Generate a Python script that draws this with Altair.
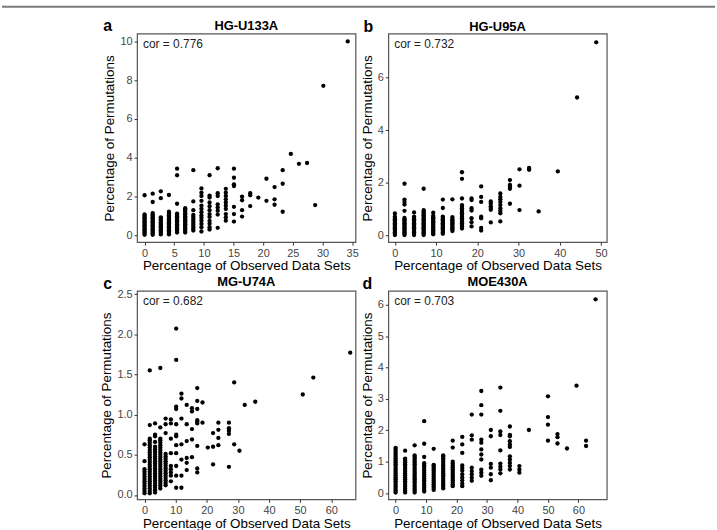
import altair as alt
import pandas as pd

FONT = "Liberation Sans"

# ---------------- Panel a : HG-U133A ----------------
A_x = [0, 1.37, 2.74, 4.11, 5.48, 6.85, 8.22, 9.59, 10.96, 12.33, 13.70, 15.07,
       16.44, 17.81, 19.18, 20.55, 21.92, 23.29, 24.66, 26.03, 27.40, 28.77, 30.14, 34.25]
A_y = [
    [0.03, 0.1, 0.17, 0.24, 0.31, 0.38, 0.45, 0.52, 0.59, 0.66, 0.73, 0.8, 0.87, 0.94, 1.01, 1.08, 2.07],
    [0.03, 0.1, 0.17, 0.24, 0.31, 0.38, 0.45, 0.52, 0.59, 0.66, 0.73, 0.8, 0.87, 0.94, 1.01, 1.08, 1.15, 1.72, 2.15],
    [0.05, 0.12, 0.19, 0.26, 0.33, 0.4, 0.47, 0.54, 0.61, 0.68, 0.75, 0.82, 0.89, 0.93, 1.92, 2.27],
    [0.05, 0.12, 0.19, 0.26, 0.33, 0.4, 0.47, 0.54, 0.61, 0.68, 0.75, 0.82, 0.89, 0.96, 1.03, 1.1, 1.17, 1.22, 2.08],
    [0.15, 0.22, 0.29, 0.36, 0.43, 0.5, 0.57, 0.64, 0.71, 0.78, 0.85, 0.92, 0.99, 1.06, 1.12, 1.63, 3.1, 3.44],
    [0.15, 0.22, 0.29, 0.36, 0.43, 0.5, 0.57, 0.64, 0.71, 0.78, 0.85, 0.92, 0.99, 1.06, 1.13, 1.2, 1.27, 1.34, 1.4],
    [0.25, 0.35, 0.45, 0.55, 0.65, 0.75, 0.85, 0.95, 1.05, 1.3, 1.75, 3.36],
    [0.2, 0.42, 0.59, 0.76, 0.9, 1.02, 1.19, 1.36, 1.53, 1.78, 2.03, 2.2, 2.42],
    [0.3, 0.42, 0.6, 0.75, 0.95, 1.1, 1.3, 1.5, 1.7, 1.95, 2.05, 3.1],
    [0.39, 1.07, 1.27, 1.44, 1.6, 2.03, 2.17, 3.46],
    [0.76, 0.93, 1.1, 1.36, 1.53, 1.7, 1.86, 2.03, 2.2, 2.4],
    [0.71, 1.1, 1.47, 2.54, 2.63, 2.97, 3.44],
    [0.97, 1.3, 1.81, 2.0],
    [1.51, 2.07, 2.17],
    [1.95],
    [1.78, 2.92],
    [1.58, 1.86, 2.49],
    [1.22, 2.66, 3.36],
    [4.2],
    [3.69],
    [3.73],
    [1.56],
    [7.71],
    [10.0],
]

# ---------------- Panel b : HG-U95A ----------------
B_x = [0, 2.33, 4.65, 6.98, 9.30, 11.63, 13.95, 16.28, 18.60, 20.93, 23.26, 25.58,
       27.91, 30.23, 32.56, 34.88, 39.53, 44.19, 48.84]
B_y = [
    [0.02, 0.07, 0.12, 0.17, 0.22, 0.27, 0.32, 0.37, 0.42, 0.47, 0.52, 0.57, 0.62, 0.67, 0.72, 0.84],
    [0.02, 0.07, 0.12, 0.17, 0.22, 0.27, 0.32, 0.37, 0.42, 0.47, 0.52, 0.57, 0.62, 0.67, 0.94, 1.18, 1.28, 1.37, 1.97],
    [0.02, 0.07, 0.12, 0.17, 0.22, 0.27, 0.32, 0.37, 0.42, 0.47, 0.52, 0.57, 0.62, 0.67, 0.72, 0.88],
    [0.02, 0.07, 0.12, 0.17, 0.22, 0.27, 0.32, 0.37, 0.42, 0.47, 0.52, 0.57, 0.62, 0.67, 0.72, 0.77, 0.82, 0.87, 0.92, 0.97, 1.78],
    [0.05, 0.1, 0.15, 0.2, 0.25, 0.3, 0.35, 0.4, 0.45, 0.5, 0.55, 0.6, 0.65, 0.7, 0.75, 0.87],
    [0.07, 0.12, 0.17, 0.22, 0.27, 0.32, 0.37, 0.42, 0.47, 0.52, 0.57, 0.62, 0.67, 0.72, 1.05, 1.37],
    [0.17, 0.22, 0.27, 0.32, 0.37, 0.42, 0.47, 0.52, 0.57, 0.62, 0.7, 1.38],
    [0.27, 0.35, 0.41, 0.47, 0.54, 0.6, 0.66, 0.72, 0.79, 0.85, 0.91, 0.98, 1.04, 1.1, 1.16, 1.41, 2.16, 2.41],
    [0.35, 0.51, 0.66, 0.95, 1.04, 1.35, 1.41],
    [0.19, 0.29, 0.66, 0.72, 1.28, 1.47, 1.87],
    [0.5, 0.98, 1.05, 1.12, 1.22, 1.3],
    [0.54, 0.85, 0.94, 1.04, 1.16, 1.28, 1.38, 1.47, 1.6],
    [1.21, 1.78, 1.87, 1.93, 2.11],
    [0.97, 1.9, 2.52],
    [2.5, 2.53, 2.57],
    [0.92],
    [2.44],
    [5.25],
    [7.35],
]

# ---------------- Panel c : MG-U74A ----------------
C_x = [0, 1.69, 3.39, 5.08, 6.78, 8.47, 10.17, 11.86, 13.56, 15.25, 16.95, 18.64,
       20.34, 22.03, 23.73, 27.12, 28.81, 30.51, 32.2, 35.59, 50.85, 54.24, 66.1]
C_y = [
    [0.02, 0.05, 0.08, 0.11, 0.14, 0.17, 0.2, 0.23, 0.26, 0.29, 0.32, 0.42, 0.63],
    [0.02, 0.05, 0.08, 0.11, 0.14, 0.17, 0.2, 0.23, 0.26, 0.29, 0.32, 0.35, 0.38, 0.41, 0.44,
     0.47, 0.5, 0.53, 0.56, 0.59, 0.62, 0.65, 0.68, 0.7, 0.87, 1.55],
    [0.03, 0.06, 0.09, 0.12, 0.15, 0.18, 0.21, 0.24, 0.27, 0.3, 0.33, 0.36, 0.39, 0.42, 0.45,
     0.48, 0.51, 0.54, 0.57, 0.6, 0.66, 0.73, 0.75, 0.89],
    [0.08, 0.11, 0.14, 0.17, 0.2, 0.23, 0.26, 0.29, 0.32, 0.35, 0.38, 0.41, 0.44, 0.47, 0.5,
     0.53, 0.56, 0.59, 0.62, 0.65, 0.68, 0.7, 0.84, 1.58],
    [0.12, 0.15, 0.18, 0.21, 0.24, 0.27, 0.3, 0.33, 0.36, 0.39, 0.42, 0.45, 0.48, 0.51, 0.77, 0.88, 0.95],
    [0.17, 0.24, 0.28, 0.32, 0.36, 0.52, 0.7, 0.89, 0.94],
    [0.09, 0.24, 0.36, 0.52, 0.62, 0.73, 0.75, 0.88, 1.07, 1.1, 1.68, 2.07],
    [0.09, 0.24, 0.44, 0.63, 0.95, 1.2, 1.26],
    [0.31, 0.4, 0.46, 0.67, 0.88, 1.12],
    [0.47, 0.69, 0.82, 1.04, 1.08],
    [0.28, 0.33, 0.61, 0.89, 0.91, 0.93, 1.07, 1.17, 1.33],
    [0.9, 1.15],
    [0.59],
    [0.38, 0.6, 0.77],
    [0.62, 0.71, 0.81, 0.9],
    [0.35, 0.76, 0.8, 0.83, 0.9],
    [0.63, 1.4],
    [0.55],
    [1.12],
    [1.16],
    [1.25],
    [1.46],
    [1.77],
]

# ---------------- Panel d : MOE430A ----------------
D_x = [0, 3.125, 6.25, 9.375, 12.5, 15.625, 18.75, 21.875, 25, 28.125, 31.25, 34.375,
       37.5, 40.625, 43.75, 50, 53.125, 56.25, 59.375, 62.5, 65.625]
D_y = [
    [0.02, 0.08, 0.14, 0.2, 0.26, 0.32, 0.38, 0.44, 0.5, 0.56, 0.62, 0.68, 0.74, 0.8, 0.86,
     0.92, 0.98, 1.04, 1.1, 1.16, 1.22, 1.28, 1.34, 1.4, 1.44],
    [0.02, 0.08, 0.14, 0.2, 0.26, 0.32, 0.38, 0.44, 0.5, 0.56, 0.62, 0.68, 0.74, 0.8, 0.86,
     0.92, 0.98, 1.04, 1.1, 1.35],
    [0.02, 0.08, 0.14, 0.2, 0.26, 0.32, 0.38, 0.44, 0.5, 0.56, 0.62, 0.68, 0.74, 0.8, 0.86,
     0.92, 0.98, 1.04, 1.1, 1.16, 1.2, 1.52],
    [0.05, 0.11, 0.17, 0.23, 0.29, 0.35, 0.41, 0.47, 0.53, 0.59, 0.65, 0.71, 0.77, 0.83, 0.89,
     0.95, 1.15, 1.57, 2.29],
    [0.1, 0.16, 0.22, 0.28, 0.34, 0.4, 0.46, 0.52, 0.58, 0.64, 0.7, 0.76, 0.82, 0.88, 0.9, 1.41],
    [0.15, 0.21, 0.27, 0.33, 0.39, 0.45, 0.51, 0.57, 0.63, 0.69, 0.75, 0.81, 0.87, 0.93, 0.99,
     1.05, 1.11, 1.17, 1.2],
    [0.22, 0.28, 0.34, 0.4, 0.46, 0.52, 0.58, 0.64, 0.7, 0.76, 0.82, 0.88, 0.94, 1.0, 1.45, 1.67],
    [0.22, 0.3, 0.4, 0.5, 0.6, 0.72, 0.8, 0.88, 1.28, 1.55, 1.79],
    [0.39, 0.49, 0.6, 0.7, 0.81, 1.7, 1.84, 2.5],
    [0.55, 0.65, 0.75, 1.07, 1.23, 1.39, 1.6, 1.7, 2.5, 2.8, 3.25],
    [0.41, 0.6, 0.81, 0.93, 1.81, 2.01],
    [0.63, 0.75, 0.84, 0.94, 1.36, 1.85, 1.96, 2.62, 3.36],
    [0.75, 0.86, 0.96, 1.07, 1.17, 1.47, 1.55, 1.65, 1.81, 1.85, 2.12],
    [0.65, 0.75, 0.86],
    [2.01],
    [1.67, 2.18, 2.42, 3.08],
    [1.58, 1.78, 1.88],
    [1.42],
    [3.42],
    [1.5, 1.67],
    [6.17],
]

TITLES = ["HG-U133A", "HG-U95A", "MG-U74A", "MOE430A"]
LETTERS = ["a", "b", "c", "d"]
CORS = ["cor = 0.776", "cor = 0.732", "cor = 0.682", "cor = 0.703"]
X_TICKS = [[0, 5, 10, 15, 20, 25, 30, 35], [0, 10, 20, 30, 40, 50],
           [0, 10, 20, 30, 40, 50, 60], [0, 10, 20, 30, 40, 50, 60]]
Y_TICKS = [[0, 2, 4, 6, 8, 10], [0, 2, 4, 6],
           [0, 0.5, 1.0, 1.5, 2.0, 2.5], [0, 1, 2, 3, 4, 5, 6]]
X_TITLE = "Percentage of Observed Data Sets"
Y_TITLE = "Percentage of Permutations"

W, H = 220, 210


def table(xs, ys):
    rows = []
    for x, col in zip(xs, ys):
        for y in col:
            rows.append({"x": x, "y": y})
    return pd.DataFrame(rows)


def label_df(t):
    return pd.DataFrame({"t": [t]})


def panel(i, xs, ys, xdom, ydom, yfmt, letter_dx, letter_dy, title_dy, top_rule=False):
    df = table(xs, ys)
    pts = alt.Chart(df).mark_circle(size=19, color="black", opacity=1).encode(
        x=alt.X("x:Q", scale=alt.Scale(domain=xdom, nice=False, zero=False),
                axis=alt.Axis(values=X_TICKS[i], title=X_TITLE, format="d")),
        y=alt.Y("y:Q", scale=alt.Scale(domain=ydom, nice=False, zero=False),
                axis=alt.Axis(values=Y_TICKS[i], title=Y_TITLE, format=yfmt)),
    )
    ttl = alt.Chart(label_df(TITLES[i])).mark_text(
        font=FONT, fontSize=13, fontWeight="bold", align="center", baseline="alphabetic", color="black"
    ).encode(text="t:N", x=alt.value(W / 2), y=alt.value(title_dy))
    let = alt.Chart(label_df(LETTERS[i])).mark_text(
        font=FONT, fontSize=16, fontWeight="bold", align="left", baseline="alphabetic", color="black"
    ).encode(text="t:N", x=alt.value(letter_dx), y=alt.value(letter_dy))
    cor = alt.Chart(label_df(CORS[i])).mark_text(
        font=FONT, fontSize=12, align="left", baseline="alphabetic", color="#222222"
    ).encode(text="t:N", x=alt.value(6), y=alt.value(14))
    layers = [pts, ttl, let, cor]
    if top_rule:
        rule = alt.Chart(label_df("")).mark_rule(color="#7a7a7a", strokeWidth=2).encode(
            x=alt.value(-136), x2=alt.value(582), y=alt.value(-27))
        layers.append(rule)
    return alt.layer(*layers).properties(width=W, height=H)


pa = panel(0, A_x, A_y, [-1.27, 35.57], [-0.35, 10.4], "d", -34, -3, -4, top_rule=True)
pb = panel(1, B_x, B_y, [-1.6, 51.4], [-0.25, 7.68], "d", -25, -2, -3)
pc = panel(2, C_x, C_y, [-2.4, 67.8], [-0.055, 2.54], ".1f", -34, -2, -5)
pd_ = panel(3, D_x, D_y, [-2.4, 69.3], [-0.2, 6.44], "d", -26, -2, -5)

chart = alt.concat(
    pa, pb, pc, pd_, columns=2, spacing={"row": 49, "column": 33}, bounds="flush"
).properties(
    padding={"left": 0, "top": 3, "right": 0, "bottom": 0},
    background="white",
).configure_view(
    stroke="#555555", strokeWidth=1.2
).configure_axis(
    grid=False, domain=False, tickColor="#333333", tickSize=3, tickWidth=1,
    labelFont=FONT, labelFontSize=11, labelColor="#444444", labelPadding=2, labelFlush=False,
    titleFont=FONT, titleFontSize=13.5, titleFontWeight="normal", titleColor="black",
).configure_axisX(titlePadding=1).configure_axisY(titlePadding=3)

chart.save("out.html", embed_options={"renderer": "svg", "actions": False})
